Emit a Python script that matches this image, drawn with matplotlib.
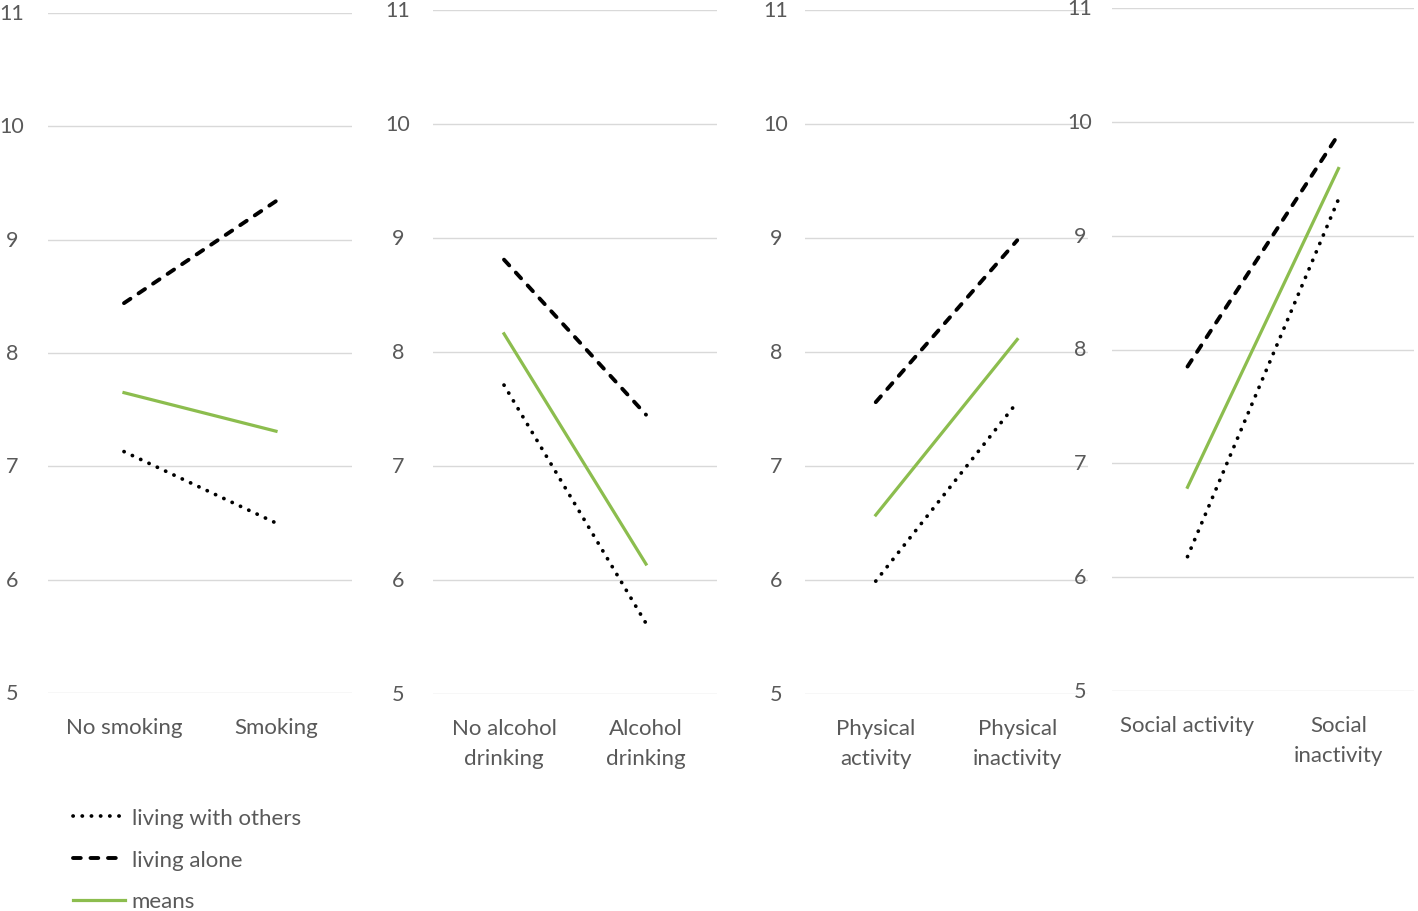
import matplotlib.pyplot as plt

# categories per panel
cats1 = ["No smoking", "Smoking"]
cats2 = ["No alcohol\ndrinking", "Alcohol\ndrinking"]
cats3 = ["Physical\nactivity", "Physical\ninactivity"]
cats4 = ["Social activity", "Social\ninactivity"]

# series values per panel
alone = [[8.44, 9.34], [8.81, 7.45], [7.56, 8.98], [7.85, 9.89]]
means = [[7.65, 7.31], [8.16, 6.14], [6.57, 8.11], [6.79, 9.59]]
others = [[7.13, 6.50], [7.71, 5.62], [5.99, 7.56], [6.18, 9.32]]

yticks = [5, 6, 7, 8, 9, 10, 11]

W, H = 1418, 912
# panel boxes in pixels: left, right, y of 11, y of 5
boxes = [(48, 352, 14, 694), (433, 717, 11, 695), (805, 1088, 11, 695), (1112, 1414, 9, 692)]
label_x = [12, 398, 776, 1080]
cats = [cats1, cats2, cats3, cats4]

plt.rcParams['font.family'] = ['Lato', 'DejaVu Sans']
grey = "#595959"
green = "#8cbd4e"

fig = plt.figure(figsize=(W / 100, H / 100), dpi=100)

for i in range(4):
    l, r, top, bot = boxes[i]
    ax = fig.add_axes([l / W, 1 - bot / H, (r - l) / W, (bot - top) / H])
    ax.set_facecolor("none")
    x = [0, 1]
    ax.plot(x, others[i], color="black", lw=2.7, linestyle=(0, (0.05, 2.4)),
            dash_capstyle="round", label="living with others")
    ax.plot(x, alone[i], color="black", lw=2.8, linestyle=(0, (2.0, 2.5)),
            dash_capstyle="round", label="living alone")
    ax.plot(x, means[i], color=green, lw=2.3, label="means")
    ax.set_xlim(-0.5, 1.5)
    ax.set_ylim(5, 11)
    ax.set_yticks(yticks)
    ax.set_yticklabels([])
    for y in yticks:
        ax.axhline(y, color="#d9d9d9", lw=1.0, zorder=0)
        fig.text(label_x[i] / W, 1 - (bot - (y - 5) * (bot - top) / 6) / H, str(y),
                 ha="center", va="center", fontsize=15.5, color=grey)
    ax.set_xticks(x)
    ax.set_xticklabels(cats[i], fontsize=16, color=grey, linespacing=1.65)
    ax.tick_params(axis="both", length=0, pad=17)
    for s in ax.spines.values():
        s.set_visible(False)
    if i == 0:
        handles, labels = ax.get_legend_handles_labels()

fig.legend(handles, labels, loc="upper left", bbox_to_anchor=(64 / W, 1 - 800 / H),
           frameon=False, fontsize=16, labelcolor=grey, handlelength=2.35,
           handletextpad=0.3, labelspacing=0.98, borderaxespad=0)

fig.savefig("out.png", dpi=100, facecolor="white")
